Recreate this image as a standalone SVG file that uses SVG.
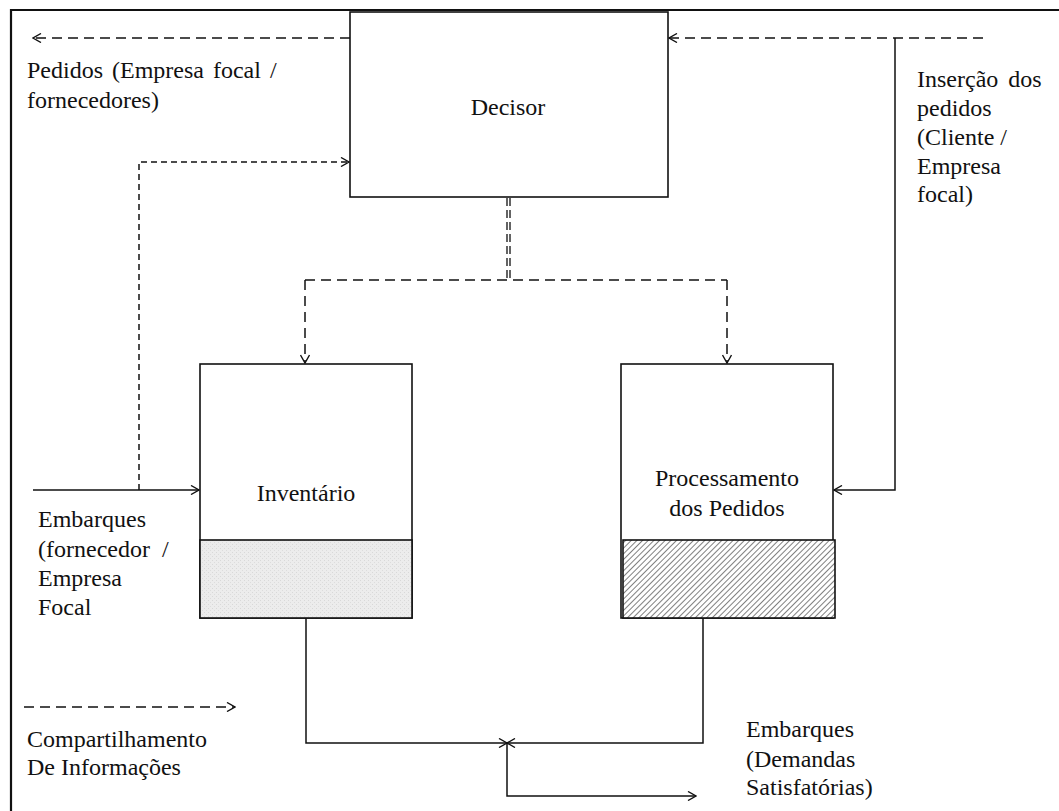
<svg xmlns="http://www.w3.org/2000/svg" width="1059" height="811" viewBox="0 0 1059 811">
<style>
text{font-family:"Liberation Serif","Times New Roman",serif;font-size:24px;fill:#111}
.box{fill:#fff;stroke:#111;stroke-width:1.6}
.ln{fill:none;stroke:#111;stroke-width:1.5}
.d1{fill:none;stroke:#111;stroke-width:1.5;stroke-dasharray:10 6}
.d2{fill:none;stroke:#111;stroke-width:1.5;stroke-dasharray:6 4}
.d3{fill:none;stroke:#111;stroke-width:1.3;stroke-dasharray:8 4}
</style>
<defs>
<marker id="ah" markerWidth="10" markerHeight="10" refX="9" refY="5" orient="auto" markerUnits="userSpaceOnUse">
<path d="M1,0.5 L9,5 L1,9.5" fill="none" stroke="#111" stroke-width="1.4"/>
</marker>
<pattern id="dots" width="4" height="4" patternUnits="userSpaceOnUse">
<rect width="4" height="4" fill="#ececec"/>
<rect x="0" y="0" width="1" height="1" fill="#d8d8d8"/>
<rect x="2" y="2" width="1" height="1" fill="#dcdcdc"/>
</pattern>
<pattern id="hatch" width="4" height="4" patternUnits="userSpaceOnUse" patternTransform="rotate(45)">
<rect width="4" height="4" fill="#fff"/>
<line x1="0" y1="0" x2="0" y2="4" stroke="#555" stroke-width="1.5"/>
</pattern>
</defs>
<rect width="1059" height="811" fill="#fff"/>
<path d="M11,811 V10 H1059" fill="none" stroke="#111" stroke-width="2.2"/>

<g id="connectors">
<line class="d1" x1="350" y1="38" x2="33" y2="38" marker-end="url(#ah)"/>
<path class="d2" d="M139,490 V162 H349" marker-end="url(#ah)"/>
<line class="d1" x1="983" y1="38" x2="669" y2="38" marker-end="url(#ah)"/>
<path class="ln" d="M895,38 V490 H834" marker-end="url(#ah)"/>
<line class="ln" x1="33" y1="490" x2="199" y2="490" marker-end="url(#ah)"/>
<line class="d3" x1="507" y1="198" x2="507" y2="280"/>
<line class="d3" x1="510" y1="198" x2="510" y2="280"/>
<line class="d1" x1="305" y1="280" x2="727" y2="280"/>
<line class="d1" x1="305" y1="280" x2="305" y2="363" marker-end="url(#ah)"/>
<line class="d1" x1="727" y1="280" x2="727" y2="363" marker-end="url(#ah)"/>
<path class="ln" d="M306,618 V743 H507" marker-end="url(#ah)"/>
<path class="ln" d="M703,618 V743 H507" marker-end="url(#ah)"/>
<path class="ln" d="M507,743 V796 H696" marker-end="url(#ah)"/>
<line class="d1" x1="24" y1="707" x2="235" y2="707" marker-end="url(#ah)"/>
</g>

<g id="decisor">
<rect class="box" x="350" y="12" width="318" height="185"/>
<text x="508" y="115" text-anchor="middle">Decisor</text>
</g>

<g id="inventario">
<rect class="box" x="200" y="364" width="212" height="254"/>
<rect x="200" y="540" width="212" height="78" fill="url(#dots)" stroke="#111" stroke-width="1.6"/>
<text x="306" y="501" text-anchor="middle">Inventário</text>
</g>

<g id="processamento">
<rect class="box" x="621" y="364" width="212" height="254"/>
<rect x="623" y="540" width="212" height="78" fill="url(#hatch)" stroke="#111" stroke-width="1.6"/>
<text x="727" y="486" text-anchor="middle">Processamento</text>
<text x="727" y="516" text-anchor="middle">dos Pedidos</text>
</g>

<g id="labels">
<text x="27" y="78" word-spacing="3">Pedidos (Empresa focal /</text>
<text x="27" y="108">fornecedores)</text>
<text x="917" y="87" word-spacing="4">Inserção dos</text>
<text x="917" y="116">pedidos</text>
<text x="917" y="145">(Cliente /</text>
<text x="917" y="174">Empresa</text>
<text x="917" y="202">focal)</text>
<text x="38" y="527">Embarques</text>
<text x="38" y="557" word-spacing="6">(fornecedor /</text>
<text x="38" y="586">Empresa</text>
<text x="38" y="615">Focal</text>
<text x="27" y="747">Compartilhamento</text>
<text x="27" y="775">De Informações</text>
<text x="746" y="737">Embarques</text>
<text x="746" y="767">(Demandas</text>
<text x="746" y="795">Satisfatórias)</text>
</g>
</svg>
